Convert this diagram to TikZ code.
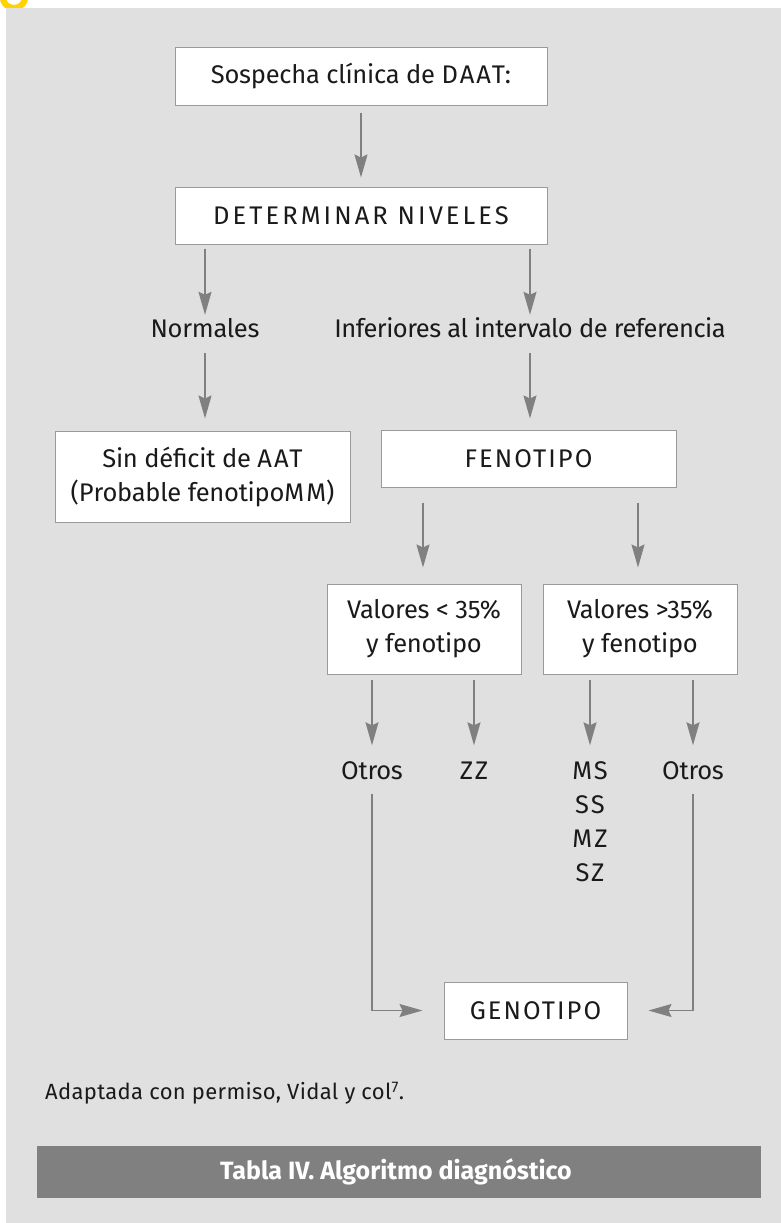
\documentclass[tikz,border=0pt]{standalone}
\usepackage{fontspec}
\setmainfont{Fira Sans}
\newfontfamily\boxfont[LetterSpace=-1]{Fira Sans}
\newfontfamily\tightfont[LetterSpace=-2]{Fira Sans}
\newfontfamily\capsfont[LetterSpace=8]{Fira Sans}
\newfontfamily\widecapsfont[LetterSpace=12]{Fira Sans}
\newfontfamily\notefont[LetterSpace=1.5]{Fira Sans}
\usetikzlibrary{arrows.meta,calc}
\definecolor{bg}{HTML}{E0E0E0}
\definecolor{ln}{HTML}{808080}
\definecolor{bd}{HTML}{9A9A9A}
\definecolor{yel}{HTML}{FFD200}
\definecolor{txt}{HTML}{1A1A1A}
\tikzset{
  box/.style={draw=bd, line width=1pt, fill=white, inner sep=0pt, align=center,
    text=txt, font=\boxfont\fontsize{25.5}{34}\selectfont},
  capbox/.style={box, font=\capsfont\fontsize{25.5}{34}\selectfont},
  lab/.style={inner sep=0pt, text=txt, text height=17pt, text depth=0pt, anchor=base,
    font=\boxfont\fontsize{25.5}{34}\selectfont},
  caplab/.style={lab, font=\capsfont\fontsize{25.5}{34}\selectfont},
  arr/.style={draw=ln, line width=1.6pt, -{Stealth[length=23pt,width=13pt,inset=3pt]}},
}
\begin{document}
\begin{tikzpicture}[x=1pt,y=-1pt]
\useasboundingbox (0,0) rectangle (781,1223);
% yellow corner mark
\draw[yel, line width=6pt] (14,-3.4) circle (11.4);
% background
\fill[bg] (6,8) rectangle (781,1223);

% boxes
\node[box, minimum width=372pt, minimum height=57pt] (sos) at (361,76.5) {Sospecha clínica de {\capsfont DAAT}:};
\node[box, font=\widecapsfont\fontsize{25.5}{34}\selectfont, minimum width=372pt, minimum height=57pt] (det) at (361,215.5) {DETERMINAR NIVELES};
\node[lab] (nor) at (205,337) {Normales};
\node[lab, font=\tightfont\fontsize{25.5}{34}\selectfont] (inf) at (530,337) {Inferiores al intervalo de referencia};
\node[box, minimum width=295pt, minimum height=91pt] (sin) at (202.5,476.5) {Sin déficit de {\capsfont AAT}\\({\capsfont P}robable fenotipo{\capsfont MM})};
\node[capbox, minimum width=295pt, minimum height=57pt] (fen) at (528.5,458.5) {FENOTIPO};
\node[box, minimum width=194pt, minimum height=90pt] (va) at (424,629) {Valores < 35\%\\y fenotipo};
\node[box, minimum width=194pt, minimum height=90pt] (vb) at (640,629) {Valores >35\%\\y fenotipo};
\node[lab] (o1) at (372,779.5) {Otros};
\node[caplab] (zz) at (474,779.5) {ZZ};
\node[caplab] (ms) at (590,779.5) {MS};
\node[caplab] (ss) at (590,813.5) {SS};
\node[caplab] (mz) at (590,847.5) {MZ};
\node[caplab] (sz) at (590,881.5) {SZ};
\node[lab] (o2) at (693,779.5) {Otros};
\node[capbox, minimum width=183pt, minimum height=57pt] (gen) at (535.5,1010.5) {GENOTIPO};

% connectors
\draw[arr, shorten <=7pt, shorten >=9pt] (sos.south) -- (det.north);
\draw[arr, shorten <=4pt, shorten >=5pt] (det.south -| nor.north) -- (nor.north);
\draw[arr, shorten <=4pt, shorten >=5pt] (det.south -| inf.north) -- (inf.north);
\draw[arr, shorten <=16pt, shorten >=12pt] (nor.south) -- (sin.north -| nor.south);
\draw[arr, shorten <=16pt, shorten >=11pt] (inf.south) -- (fen.north -| inf.south);
\coordinate (fa) at ($(fen.south -| va.north)+(-1,0)$);
\coordinate (fb) at ($(fen.south -| vb.north)+(-2,0)$);
\draw[arr, shorten <=15pt, shorten >=16pt] (fa) -- (va.north -| fa);
\draw[arr, shorten <=15pt, shorten >=16pt] (fb) -- (vb.north -| fb);
\draw[arr, shorten <=5pt, shorten >=17pt] (va.south -| o1.north) -- (o1.north);
\draw[arr, shorten <=5pt, shorten >=17pt] (va.south -| zz.north) -- (zz.north);
\draw[arr, shorten <=5pt, shorten >=17pt] (vb.south -| ms.north) -- (ms.north);
\draw[arr, shorten <=5pt, shorten >=17pt] (vb.south -| o2.north) -- (o2.north);
\draw[arr, shorten <=14pt, shorten >=21pt] (o1.south) |- (gen.west);
\draw[arr, shorten <=14pt, shorten >=21pt] (o2.south) |- (gen.east);

% footnote and caption
\node[inner sep=0pt, anchor=west, text=txt, font=\notefont\fontsize{22}{26}\selectfont] (src) at (45,1093) {Adaptada con permiso, Vidal y col\textsuperscript{7}.};
\fill[ln] (37,1146) rectangle (761,1198);
\node[inner sep=0pt, text=white, font=\bfseries\fontsize{25}{29}\selectfont] (cap) at (396,1172) {Tabla IV. Algoritmo diagnóstico};
\end{tikzpicture}
\end{document}
